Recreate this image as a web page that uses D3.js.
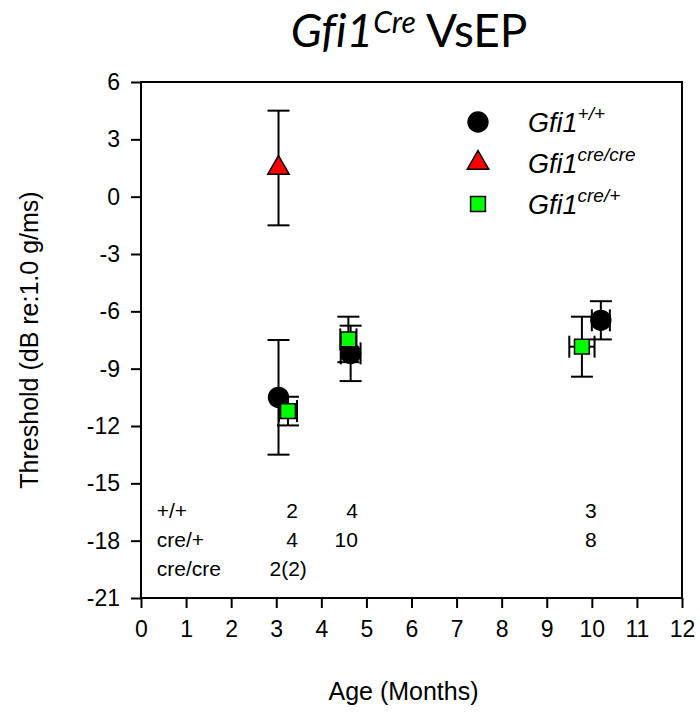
<!DOCTYPE html>
<html>
<head>
<meta charset="utf-8">
<script src="https://d3js.org/d3.v7.min.js"></script>
<style>
body { margin: 0; background: #fff; }
text { font-family: "Liberation Sans", Arial, sans-serif; }
</style>
</head>
<body>
<div id="chart"></div>
<script>
// Gfi1+/+  (black circles)
var wtAge = [3.05, 4.65, 10.2];
var wtAgeErr = [0, 0.22, 0.2];
var wtThresh = [-10.5, -8.2, -6.47];
var wtErr = [3.0, 1.45, 1.0];
// Gfi1cre/cre (red triangle)
var homAge = [3.05];
var homAgeErr = [0];
var homThresh = [1.5];
var homErr = [3.0];
// Gfi1cre/+ (green squares)
var hetAge = [3.26, 4.6, 9.78];
var hetAgeErr = [0.2, 0.18, 0.28];
var hetThresh = [-11.22, -7.47, -7.85];
var hetErr = [0.75, 1.19, 1.57];

var xTicks = [0, 1, 2, 3, 4, 5, 6, 7, 8, 9, 10, 11, 12];
var yTicks = [6, 3, 0, -3, -6, -9, -12, -15, -18, -21];

// animal counts shown inside the plot
var nRowLabels = ["+/+", "cre/+", "cre/cre"];
var nRowY = [-16.45, -17.95, -19.45];
var nColAge = [3.48, 4.81, 10.11];
var nCounts = [["2", "4", "3"], ["4", "10", "8"], ["2(2)", "", ""]];

var margin = { top: 82, right: 18, bottom: 123, left: 141 },
    width = 700 - margin.left - margin.right,
    height = 721 - margin.top - margin.bottom;

var x = d3.scaleLinear().domain([0, 12]).range([0, width]);
var y = d3.scaleLinear().domain([-21, 6]).range([height, 0]);

var svgRoot = d3.select("#chart").append("svg")
    .attr("width", 700)
    .attr("height", 721);

var svg = svgRoot.append("g")
    .attr("transform", "translate(" + margin.left + "," + margin.top + ")");

// title
var title = svgRoot.append("text")
    .attr("x", 409)
    .attr("y", 47)
    .style("text-anchor", "middle")
    .style("font-family", "Lato, 'Open Sans', sans-serif")
    .style("font-variant-ligatures", "none")
    .style("font-size", "46px");
title.append("tspan").style("font-style", "italic").text("Gfi1");
title.append("tspan").style("font-style", "italic").style("font-size", "30px")
    .attr("dy", "-14").text("Cre");
title.append("tspan").attr("dy", "14").text(" VsEP");

// axes
var fmt = function (d) { return String(d); };
var xAxis = d3.axisBottom(x).tickValues(xTicks).tickFormat(fmt).tickSize(10).tickSizeOuter(0).tickPadding(13);
var yAxis = d3.axisLeft(y).tickValues(yTicks).tickFormat(fmt).tickSize(10).tickSizeOuter(0).tickPadding(11);

svg.append("g")
    .attr("class", "x axis")
    .attr("transform", "translate(0," + height + ")")
    .call(xAxis);
svg.append("g")
    .attr("class", "y axis")
    .call(yAxis);

svg.selectAll(".axis path").remove();
svg.selectAll(".axis line").attr("stroke", "#000").attr("stroke-width", 2);
svg.selectAll(".axis text")
    .attr("fill", "#000")
    .style("font-size", "23px")
    .style("font-family", "'Liberation Sans', Arial, sans-serif");

svg.append("rect")
    .attr("width", width)
    .attr("height", height)
    .attr("fill", "none")
    .attr("stroke", "#000")
    .attr("stroke-width", 2);

svgRoot.append("text")
    .attr("x", margin.left + width / 2 - 8)
    .attr("y", 700)
    .style("text-anchor", "middle")
    .style("font-size", "25px")
    .text("Age (Months)");

svgRoot.append("text")
    .attr("transform", "translate(38," + (margin.top + height / 2) + ") rotate(-90)")
    .style("text-anchor", "middle")
    .style("font-size", "25px")
    .text("Threshold (dB re:1.0 g/ms)");

// n table
nRowLabels.forEach(function (lab, i) {
    svg.append("text")
        .attr("x", x(0.35))
        .attr("y", y(nRowY[i]))
        .attr("dy", "0.35em")
        .style("font-size", "21px")
        .text(lab);
    nCounts[i].forEach(function (c, j) {
        svg.append("text")
            .attr("x", x(nColAge[j]) + (c.length > 2 ? 9 : 0))
            .attr("y", y(nRowY[i]))
            .attr("dy", "0.35em")
            .style("text-anchor", "end")
            .style("font-size", "21px")
            .text(c);
    });
});

// error bars + markers
var cap = 11;
function drawSeries(ages, ageErr, vals, errs, shape, fill) {
    var data = ages.map(function (a, i) {
        return { age: a, ae: ageErr[i], v: vals[i], e: errs[i] };
    });
    var g = svg.append("g");
    var eb = g.selectAll(".err").data(data).enter().append("g")
        .attr("stroke", "#000").attr("stroke-width", 2);
    eb.append("line")
        .attr("x1", function (d) { return x(d.age); })
        .attr("x2", function (d) { return x(d.age); })
        .attr("y1", function (d) { return y(d.v - d.e); })
        .attr("y2", function (d) { return y(d.v + d.e); });
    [-1, 1].forEach(function (s) {
        eb.append("line")
            .attr("x1", function (d) { return x(d.age) - cap; })
            .attr("x2", function (d) { return x(d.age) + cap; })
            .attr("y1", function (d) { return y(d.v + s * d.e); })
            .attr("y2", function (d) { return y(d.v + s * d.e); });
    });
    var hb = eb.filter(function (d) { return d.ae > 0; });
    hb.append("line")
        .attr("x1", function (d) { return x(d.age - d.ae); })
        .attr("x2", function (d) { return x(d.age + d.ae); })
        .attr("y1", function (d) { return y(d.v); })
        .attr("y2", function (d) { return y(d.v); });
    [-1, 1].forEach(function (s) {
        hb.append("line")
            .attr("x1", function (d) { return x(d.age + s * d.ae); })
            .attr("x2", function (d) { return x(d.age + s * d.ae); })
            .attr("y1", function (d) { return y(d.v) - cap; })
            .attr("y2", function (d) { return y(d.v) + cap; });
    });
    g.selectAll(".pt").data(data).enter().append("path")
        .attr("d", d3.symbol().type(shape.type).size(shape.size))
        .attr("transform", function (d) { return "translate(" + x(d.age) + "," + y(d.v) + ")"; })
        .attr("fill", fill)
        .attr("stroke", "#000")
        .attr("stroke-width", 1.5);
}

var circle = { type: d3.symbolCircle, size: 310 };
var tri = { type: d3.symbolTriangle, size: 200 };
var square = { type: d3.symbolSquare, size: 220 };

drawSeries(wtAge, wtAgeErr, wtThresh, wtErr, circle, "#000");
drawSeries(homAge, homAgeErr, homThresh, homErr, tri, "#ff0000");
drawSeries(hetAge, hetAgeErr, hetThresh, hetErr, square, "#00ff00");

// legend
var legendItems = [
    { sym: circle, fill: "#000", sup: "+/+" },
    { sym: tri, fill: "#ff0000", sup: "cre/cre" },
    { sym: square, fill: "#00ff00", sup: "cre/+" }
];
var legend = svgRoot.append("g").attr("transform", "translate(478,122)");
legendItems.forEach(function (d, i) {
    legend.append("path")
        .attr("d", d3.symbol().type(d.sym.type).size(d.sym.size))
        .attr("transform", "translate(0," + i * 41 + ")")
        .attr("fill", d.fill)
        .attr("stroke", "#000")
        .attr("stroke-width", 1.5);
    var t = legend.append("text")
        .attr("x", 50)
        .attr("y", i * 41 + 10)
        .style("font-style", "italic")
        .style("font-size", "27px");
    t.append("tspan").text("Gfi1");
    t.append("tspan").attr("dy", -12).style("font-size", "19px").text(d.sup);
});
</script>
</body>
</html>
